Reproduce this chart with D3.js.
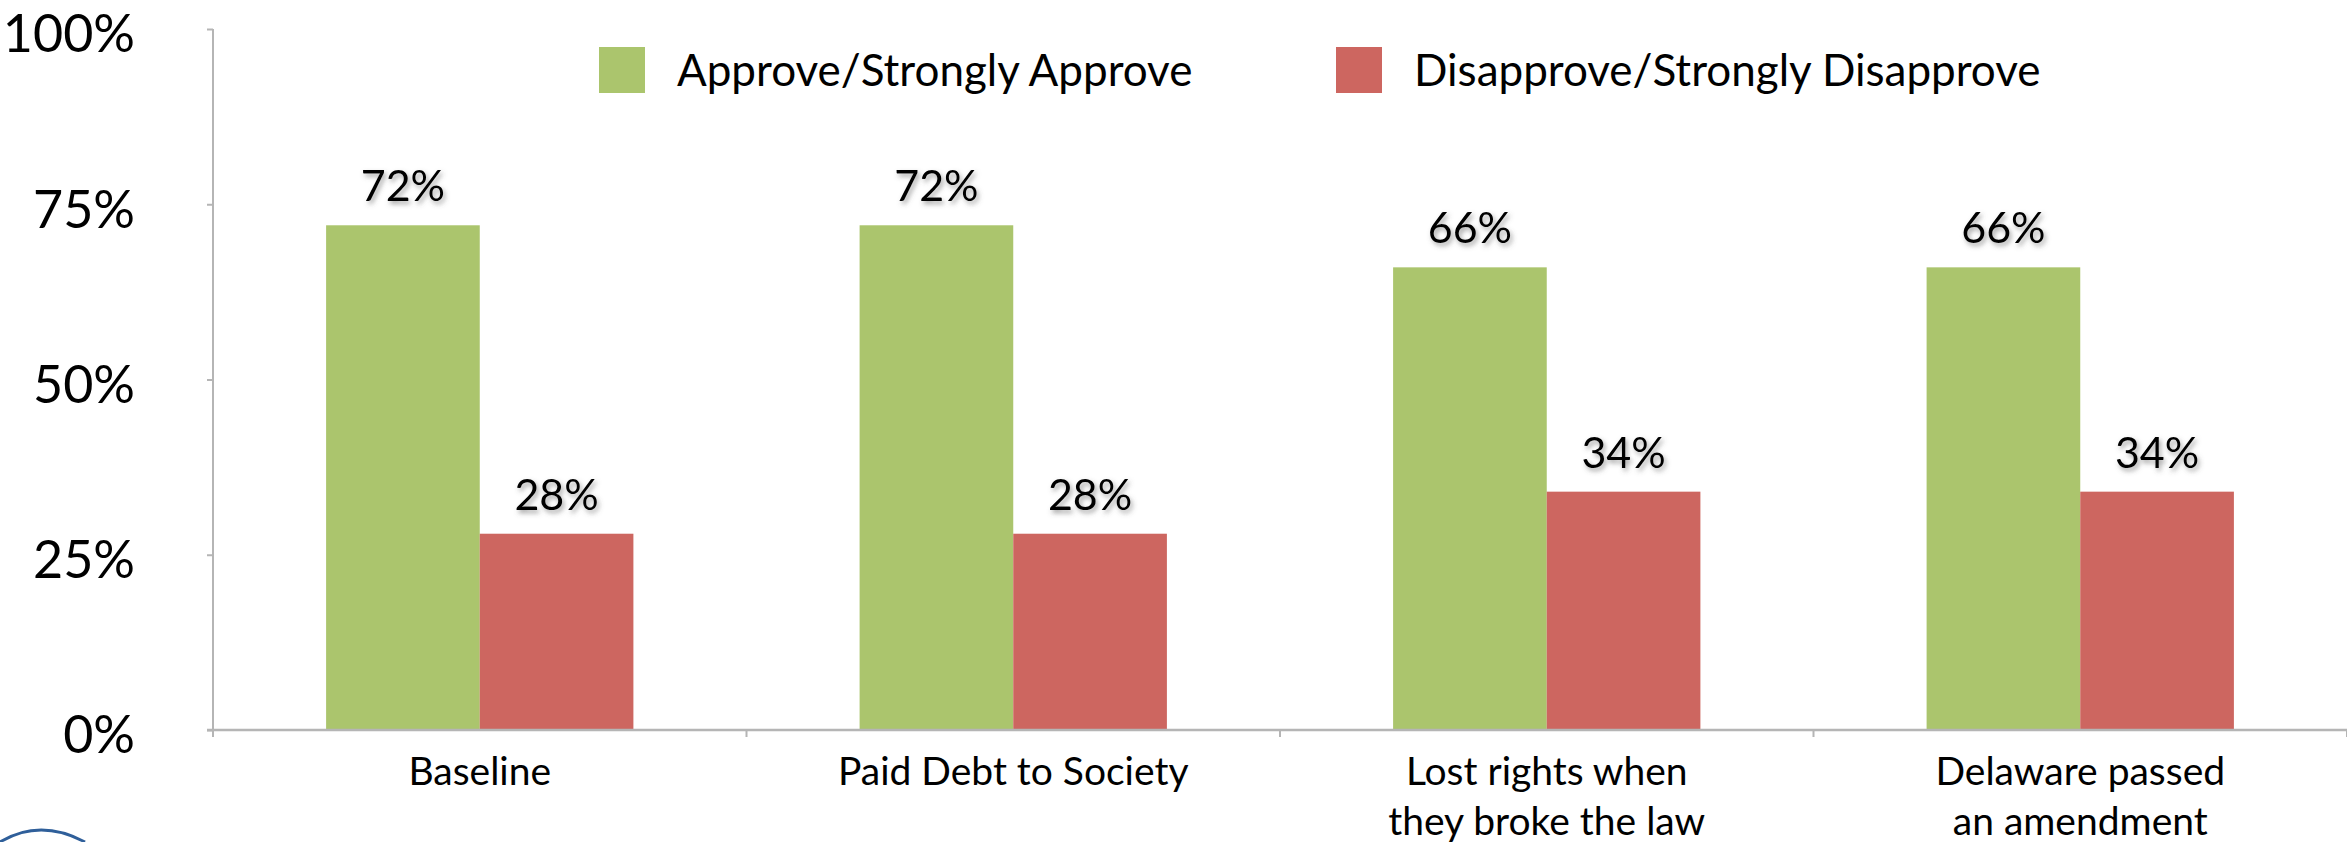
<!DOCTYPE html>
<html>
<head>
<meta charset="utf-8">
<script src="https://cdn.jsdelivr.net/npm/d3@7"></script>
<style>
  html, body { margin: 0; padding: 0; background: #fff; }
  svg { display: block; }
  text { font-family: Lato, "Open Sans", sans-serif; fill: #000; }
</style>
</head>
<body>
<svg id="chart" width="2347" height="842"></svg>
<script>
// ---- data ----
const categories = ["Baseline", "Paid Debt to Society", "Lost rights when\nthey broke the law", "Delaware passed\nan amendment"];
const seriesNames = ["Approve/Strongly Approve", "Disapprove/Strongly Disapprove"];
const approve = [72, 72, 66, 66];
const disapprove = [28, 28, 34, 34];
const yTicks = [0, 25, 50, 75, 100];
const colors = ["#abc56d", "#cd6660"];

// ---- layout ----
const W = 2347, H = 842;
const mLeft = 213, mRight = 2347, mTop = 29, mBottom = 730;
const axisColor = "#b5b5b5";

const svg = d3.select("#chart");
const defs = svg.append("defs");
const f = defs.append("filter").attr("id", "shadow").attr("x", "-20%").attr("y", "-30%").attr("width", "150%").attr("height", "170%");
f.append("feDropShadow").attr("dx", 2).attr("dy", 3).attr("stdDeviation", 2.5).attr("flood-color", "#555").attr("flood-opacity", 0.55);

const y = d3.scaleLinear().domain([0, 100]).range([mBottom, mTop]);
const x0 = d3.scaleBand().domain(categories).range([mLeft, mRight]).paddingInner(0.424).paddingOuter(0.212);
const x1 = d3.scaleBand().domain(seriesNames).range([0, x0.bandwidth()]);

const data = categories.map((c, i) => ({ cat: c, vals: [approve[i], disapprove[i]] }));

// bars
const groups = svg.append("g").selectAll("g").data(data).join("g")
  .attr("transform", d => `translate(${x0(d.cat)},0)`);
groups.selectAll("rect").data(d => d.vals.map((v, k) => ({ v, k }))).join("rect")
  .attr("x", d => x1(seriesNames[d.k]))
  .attr("width", x1.bandwidth())
  .attr("y", d => y(d.v))
  .attr("height", d => y(0) - y(d.v))
  .attr("fill", d => colors[d.k]);
groups.selectAll("text.lbl").data(d => d.vals.map((v, k) => ({ v, k }))).join("text")
  .attr("class", "lbl")
  .attr("x", d => x1(seriesNames[d.k]) + x1.bandwidth() / 2)
  .attr("y", d => y(d.v) - 24)
  .attr("text-anchor", "middle")
  .attr("font-size", 43)
  .attr("filter", "url(#shadow)")
  .text(d => d.v + "%");

// y axis
const yAxis = d3.axisLeft(y).tickValues(yTicks).tickFormat(d => d + "%").tickSize(6).tickPadding(72).tickSizeOuter(0);
const gy = svg.append("g").attr("transform", `translate(${mLeft},0)`).call(yAxis);
gy.select(".domain").remove();
gy.selectAll(".tick line").attr("stroke", axisColor).attr("stroke-width", 2);
gy.selectAll(".tick text").attr("font-size", 52).attr("font-family", "Lato, sans-serif").attr("dy", "0.44em");
svg.append("line").attr("x1", mLeft).attr("x2", mLeft).attr("y1", mTop).attr("y2", mBottom + 7)
  .attr("stroke", axisColor).attr("stroke-width", 2);

// x axis
svg.append("line").attr("x1", mLeft - 6).attr("x2", mRight).attr("y1", mBottom).attr("y2", mBottom)
  .attr("stroke", axisColor).attr("stroke-width", 2.5);
const boundaries = d3.range(categories.length + 1).map(i => x0.range()[0] + i * x0.step());
svg.append("g").selectAll("line").data(boundaries).join("line")
  .attr("x1", d => d).attr("x2", d => d).attr("y1", mBottom).attr("y2", mBottom + 7)
  .attr("stroke", axisColor).attr("stroke-width", 2);
const xl = svg.append("g").selectAll("text").data(categories).join("text")
  .attr("x", d => x0(d) + x0.bandwidth() / 2)
  .attr("y", 785)
  .attr("text-anchor", "middle")
  .attr("font-size", 39);
xl.selectAll("tspan").data(d => d.split("\n")).join("tspan")
  .attr("x", function () { return d3.select(this.parentNode).attr("x"); })
  .attr("dy", (d, i) => i === 0 ? 0 : 50)
  .text(d => d);

// legend
const legendX = [599, 1336];
const lg = svg.append("g").selectAll("g").data(seriesNames).join("g")
  .attr("transform", (d, i) => `translate(${legendX[i]},47)`);
lg.append("rect").attr("width", 46).attr("height", 46).attr("fill", (d, i) => colors[i]);
lg.append("text").attr("x", 78).attr("y", 39).attr("font-size", 44).text(d => d);

// partial logo arc at bottom-left
svg.append("path")
  .attr("d", "M 0 842 Q 40 818 85 842")
  .attr("fill", "none").attr("stroke", "#2f5f9a").attr("stroke-width", 3);
</script>
</body>
</html>
